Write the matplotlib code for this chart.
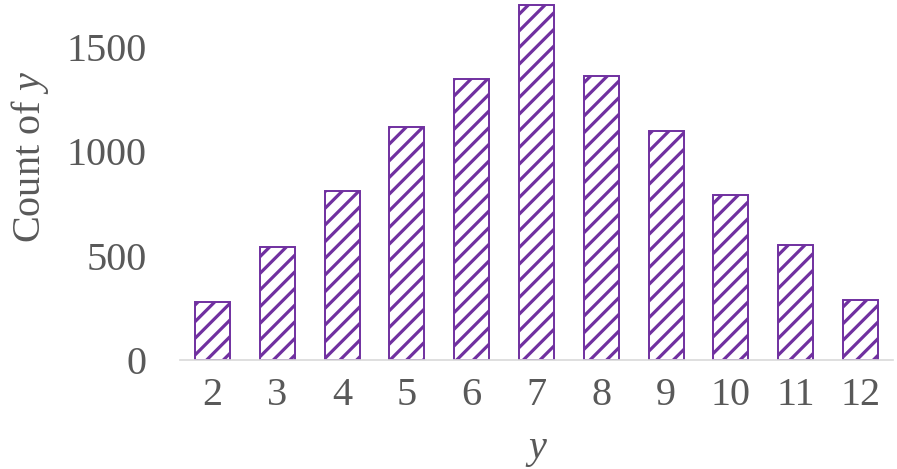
import matplotlib
matplotlib.use('Agg')
import matplotlib.pyplot as plt

plt.rcParams['font.family'] = ['Liberation Serif', 'DejaVu Serif']
plt.rcParams['mathtext.fontset'] = 'custom'
plt.rcParams['mathtext.rm'] = 'Liberation Serif'
plt.rcParams['mathtext.it'] = 'Liberation Serif:italic'
plt.rcParams['hatch.linewidth'] = 2.3
plt.rcParams['hatch.color'] = '#7030A0'

# sum of two dice, counts per outcome
sums = [2, 3, 4, 5, 6, 7, 8, 9, 10, 11, 12]
counts = [279, 543, 810, 1118, 1345, 1701, 1361, 1097, 789, 551, 288]
yTicks = [0, 500, 1000, 1500]

purple = '#7030A0'
textGrey = '#595959'

figureWidth = 8.97
figureHeight = 4.69
fig = plt.figure(figsize=(figureWidth, figureHeight), dpi=100)

#             left,bottom,width,height
panel = fig.add_axes([180/897, 109/469, 713/897, 360/469])

panel.bar(sums, counts, width=0.54, facecolor='white', edgecolor=purple,
          linewidth=1.4, hatch='//')

panel.set_xlim(1.5, 12.5)
panel.set_ylim(0, 1725)
panel.set_xticks(sums)
panel.set_yticks(yTicks)

for side in ['top', 'right', 'left']:
    panel.spines[side].set_visible(False)
panel.spines['bottom'].set_color('#D9D9D9')
panel.spines['bottom'].set_linewidth(1.2)

panel.tick_params(axis='both', length=0, labelsize=29, labelcolor=textGrey)
panel.tick_params(axis='x', pad=12)
panel.tick_params(axis='y', pad=24)

fig.text(30/897, 1 - 157/469, 'Count of $y$', rotation=90, fontsize=29,
         color=textGrey, ha='center', va='center')
fig.text(537/897, 1 - 450/469, '$y$', fontsize=29, color=textGrey,
         ha='center', va='center')

plt.savefig('out.png', dpi=100)
